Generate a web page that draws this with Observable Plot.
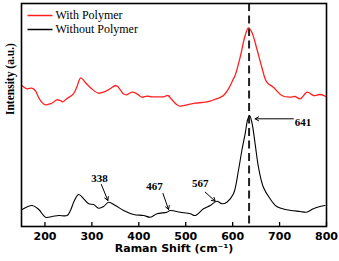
<!DOCTYPE html>
<html>
<head>
<meta charset="utf-8">
<script src="https://cdn.jsdelivr.net/npm/d3@7"></script>
<script src="https://cdn.jsdelivr.net/npm/@observablehq/plot@0.6"></script>
<style>
  html, body { margin: 0; padding: 0; background: #fff; }
  #chart svg { display: block; }
</style>
</head>
<body>
<div id="chart"></div>
<script>
// Raman shift (cm^-1) and intensity (a.u.)
const withShift = [150.6,161.3,171.9,179.1,186.2,193.2,200.4,211.1,218.1,225.1,232.3,237.9,246.4,260.6,267.7,276.2,285.5,299.6,313.8,324.5,338.7,350.6,356.4,367,374,385.5,396.2,406.8,417.4,428.1,442.1,452.8,462.1,470.6,481.3,488.3,502.6,520.2,541.5,555.7,569.8,580.4,591.1,601.7,605.3,616,626.6,633.6,640.9,651.5,662.1,672.8,686.8,704.7,722.3,733,743.6,759.1,771.9,786.2,798.9];
const withInt   = [141,137.7,138.3,136,129.3,124.3,121.7,122.7,124.3,126.7,126,124.7,127.7,132.7,139.3,148.7,144.3,137.7,133.3,134.3,137.7,141,139.3,132.7,131.7,134.3,132.7,129.3,130.3,129.7,129.7,129.7,131,126.7,121.7,120.3,121.7,123.3,124.3,126,128.3,131,137.7,147.7,151,169.3,191,198.7,194.3,177.7,159.3,144.3,139.3,131,129.3,130,127.7,134.3,131,132,130];

const withoutShift = [151.5,172.8,186.8,201.1,215.3,229.4,247.2,254.3,262.8,271.9,282.6,293.2,303.8,314.5,325.1,335.7,350,367.7,388.9,410.2,424.5,438.7,460,467,488.3,509.6,520.2,537.9,552.1,566.4,577,587.7,601.7,612.3,619.6,626.6,632,636,641,647.9,655,665.5,679.8,694,715.3,743.6,757.9,771.9,786.2,796.8];
const withoutInt   = [17,21,17,9.3,10,11,11,16,26,32,27.7,22.7,22,18.3,20,24.3,21,16,12,11,9.3,12.7,14.3,16,14.3,12.7,11,17.7,21,25.3,22.7,24.3,32.7,56,76,92.7,107,111,104,82.7,59.3,39.3,27.7,20,16.7,15,14.3,17.7,20,21];

const xTicks = [200, 300, 400, 500, 600, 700, 800];
const seriesNames = ["With Polymer", "Without Polymer"];
const seriesColors = ["#ff2020", "#000000"];
const markerShift = 635;

// peak annotations: label, label position, arrow start/end (data units)
const peakLabels = ["338", "467", "567", "641"];
const labelX = [316, 433.6, 530.9, 750];
const labelY = [48, 40, 42.7, 104.3];
const arrowX1 = [320.2, 451.5, 541.5, 729.4];
const arrowY1 = [42, 33, 34.3, 107.7];
const arrowX2 = [334, 463.4, 562.8, 647.9];
const arrowY2 = [26, 17, 25.3, 107.7];

// legend positions (data units)
const legendX1 = 162.8, legendX2 = 216, legendTextX = 222.3;
const legendY = [211, 197];

const withData = withShift.map((x, i) => ({x, y: withInt[i]}));
const withoutData = withoutShift.map((x, i) => ({x, y: withoutInt[i]}));
const ann = peakLabels.map((t, i) => ({t, lx: labelX[i], ly: labelY[i], x1: arrowX1[i], y1: arrowY1[i], x2: arrowX2[i], y2: arrowY2[i]}));
const legend = seriesNames.map((name, i) => ({name, color: seriesColors[i], y: legendY[i]}));

const chart = Plot.plot({
  width: 339,
  height: 261,
  marginLeft: 21,
  marginRight: 13,
  marginTop: 3,
  marginBottom: 35,
  style: {background: "#fff"},
  x: {domain: [150, 800], axis: null},
  y: {domain: [0, 223], axis: null},
  marks: [
    Plot.ruleX([markerShift], {stroke: "#222", strokeWidth: 2, strokeDasharray: "8,4.5"}),
    Plot.line(withData, {x: "x", y: "y", stroke: seriesColors[0], strokeWidth: 1.3, curve: "catmull-rom"}),
    Plot.line(withoutData, {x: "x", y: "y", stroke: seriesColors[1], strokeWidth: 1.1, curve: "catmull-rom"}),
    Plot.arrow(ann, {x1: "x1", y1: "y1", x2: "x2", y2: "y2", stroke: "#000", strokeWidth: 1, headLength: 6}),
    Plot.text(ann, {x: "lx", y: "ly", text: "t", fontFamily: "Liberation Serif", fontWeight: "bold", fontSize: 11, fill: "#000"}),
    Plot.link(legend, {x1: legendX1, x2: legendX2, y1: "y", y2: "y", stroke: "color", strokeWidth: 1.5}),
    Plot.text(legend, {x: legendTextX, y: "y", text: "name", textAnchor: "start", fontFamily: "Liberation Serif", fontSize: 12, fill: "#000"}),
    Plot.axisX({ticks: xTicks, tickSize: 4, dy: -4, tickFormat: () => "", label: null, stroke: "#000", strokeWidth: 1.3}),
    Plot.axisX({ticks: xTicks, tickSize: 0, tickPadding: 6, label: null, fontFamily: "DejaVu Sans", fontWeight: "bold", fontSize: 11, fill: "#000"}),
    Plot.text(["Raman Shift (cm⁻¹)"], {frameAnchor: "bottom", dy: 25.5, fontFamily: "DejaVu Sans", fontWeight: "bold", fontSize: 11, fill: "#000"}),
    Plot.text(["Intensity (a.u.)"], {frameAnchor: "left", dx: -11, rotate: -90, fontFamily: "Liberation Serif", fontWeight: "bold", fontSize: 11.5, fill: "#000"}),
    Plot.frame({stroke: "#000", strokeWidth: 1.6})
  ]
});
document.getElementById("chart").append(chart);
</script>
</body>
</html>
